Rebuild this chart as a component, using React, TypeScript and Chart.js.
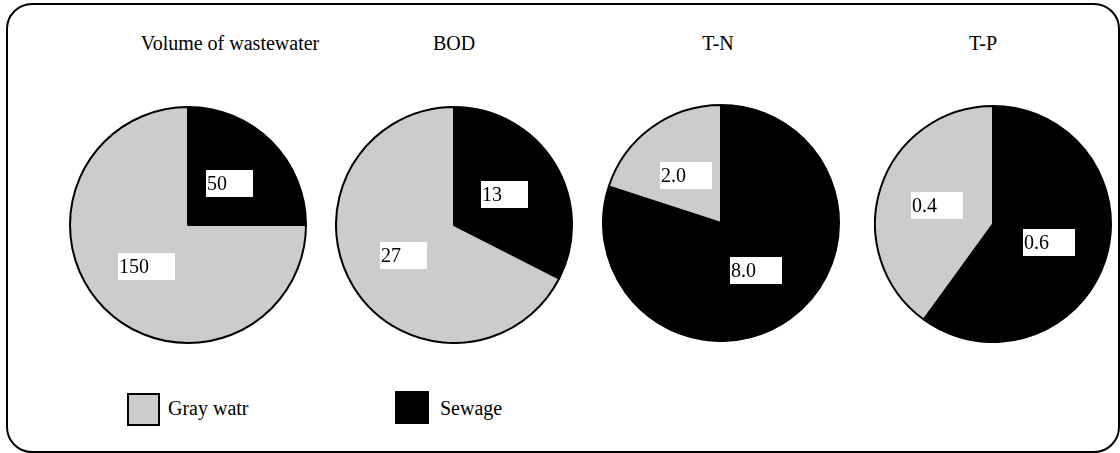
import React, { useEffect, useRef } from "react";
import { Chart, registerables } from "chart.js";

Chart.register(...registerables);

// ---- data ----
const pieTitles = ["Volume of wastewater", "BOD", "T-N", "T-P"];
const seriesNames = ["Sewage", "Gray watr"];
const sewageValues = [50, 13, 8.0, 0.6];
const grayValues = [150, 27, 2.0, 0.4];
const labelDecimals = [0, 0, 1, 1];

// ---- layout / style ----
const pieCenterX = [188, 454, 721, 993];
const pieCenterY = [225, 225, 223, 224];
const pieRadius = 118;
const titleCenterX = [230, 454, 718, 983];
const sliceColors = ["#000000", "#cccccc"];
const FONT = '"Liberation Serif", "Times New Roman", Times, serif';

const boxLabelPlugin = {
  id: "boxLabels",
  afterDatasetsDraw(chart: any, _args: any, opts: any) {
    const ctx = chart.ctx;
    const meta = chart.getDatasetMeta(0);
    const labels: string[] = opts.labels || [];
    ctx.save();
    ctx.font = "20px " + FONT;
    meta.data.forEach((arc: any, i: number) => {
      const p = arc.tooltipPosition(false);
      const txt = labels[i];
      const tw = ctx.measureText(txt).width;
      const w = Math.round(tw + 27);
      const h = 27;
      const x = Math.round(p.x - w / 2);
      const y = Math.round(p.y - h / 2);
      ctx.fillStyle = "#ffffff";
      ctx.fillRect(x, y, w, h);
      ctx.fillStyle = "#000000";
      ctx.textAlign = "left";
      ctx.textBaseline = "alphabetic";
      ctx.fillText(txt, x + 1, y + 20);
    });
    ctx.restore();
  },
};

function PieChart({ index }: { index: number }) {
  const ref = useRef<HTMLCanvasElement | null>(null);
  const size = pieRadius * 2 + 2;
  useEffect(() => {
    if (!ref.current) return;
    const values = [sewageValues[index], grayValues[index]];
    const labels = values.map((v) => v.toFixed(labelDecimals[index]));
    const chart = new Chart(ref.current, {
      type: "pie",
      data: {
        labels: seriesNames,
        datasets: [
          {
            data: values,
            backgroundColor: sliceColors,
            borderColor: "#000000",
            borderWidth: 2,
          },
        ],
      },
      options: {
        animation: false,
        responsive: false,
        maintainAspectRatio: false,
        devicePixelRatio: 1,
        layout: { padding: 0 },
        events: [],
        plugins: {
          legend: { display: false },
          tooltip: { enabled: false },
          title: { display: false },
          boxLabels: { labels },
        } as any,
      },
      plugins: [boxLabelPlugin as any],
    });
    return () => chart.destroy();
  }, [index]);
  return (
    <canvas
      ref={ref}
      width={size}
      height={size}
      style={{
        position: "absolute",
        left: pieCenterX[index] - size / 2,
        top: pieCenterY[index] - size / 2,
        width: size,
        height: size,
      }}
    />
  );
}

export default function App() {
  const textStyle: React.CSSProperties = {
    position: "absolute",
    fontFamily: FONT,
    fontSize: 20,
    lineHeight: "20px",
    color: "#000",
    whiteSpace: "nowrap",
  };
  return (
    <div
      style={{
        position: "absolute",
        left: 0,
        top: 0,
        width: 1120,
        height: 453,
        background: "#fff",
        overflow: "hidden",
      }}
    >
      <div
        style={{
          position: "absolute",
          left: 6,
          top: 3,
          width: 1114,
          height: 450,
          boxSizing: "border-box",
          border: "2px solid #000",
          borderRadius: 26,
        }}
      />
      {pieTitles.map((t, i) => (
        <div
          key={t}
          style={{
            ...textStyle,
            left: titleCenterX[i] - 150,
            width: 300,
            top: 33,
            textAlign: "center",
          }}
        >
          {t}
        </div>
      ))}
      {pieTitles.map((t, i) => (
        <PieChart key={"p" + t} index={i} />
      ))}
      {/* legend */}
      <div
        style={{
          position: "absolute",
          left: 127,
          top: 393,
          width: 33,
          height: 33,
          boxSizing: "border-box",
          background: sliceColors[1],
          border: "2px solid #000",
        }}
      />
      <div style={{ ...textStyle, left: 168, top: 398 }}>{seriesNames[1]}</div>
      <div
        style={{
          position: "absolute",
          left: 395,
          top: 391,
          width: 34,
          height: 33,
          background: sliceColors[0],
        }}
      />
      <div style={{ ...textStyle, left: 440, top: 398 }}>{seriesNames[0]}</div>
    </div>
  );
}
